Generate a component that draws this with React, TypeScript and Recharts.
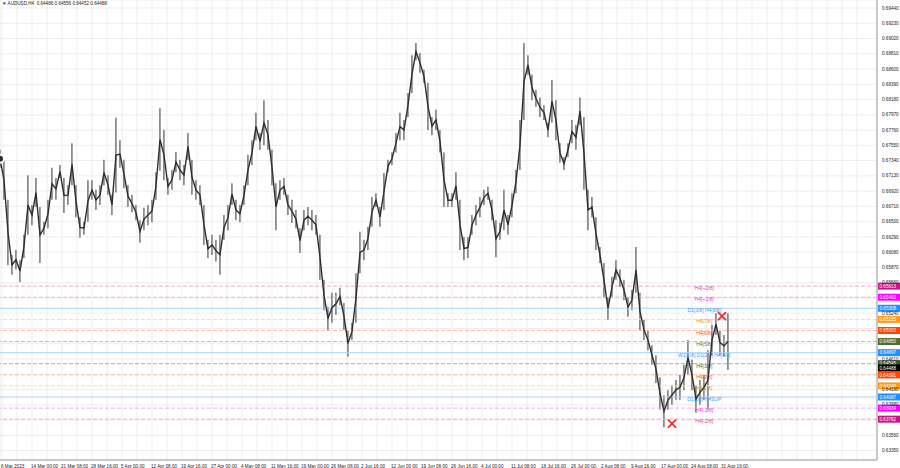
import React from 'react';
import { ComposedChart, Bar, Line, XAxis, YAxis, CartesianGrid, ReferenceLine, Scatter } from 'recharts';

const highs = [
  0.6749, 0.6735, 0.6680, 0.6604, 0.6611, 0.6597, 0.6632, 0.6714, 0.6673, 0.6710,
  0.6670, 0.6650, 0.6680, 0.6724, 0.6710, 0.6728, 0.6710, 0.6700, 0.6758, 0.6700,
  0.6656, 0.6650, 0.6707, 0.6707, 0.6694, 0.6700, 0.6735, 0.6714, 0.6687, 0.6793,
  0.6762, 0.6735, 0.6700, 0.6687, 0.6673, 0.6652, 0.6669, 0.6673, 0.6680, 0.6718,
  0.6806, 0.6776, 0.6710, 0.6721, 0.6746, 0.6735, 0.6728, 0.6772, 0.6735, 0.6707,
  0.6700, 0.6673, 0.6625, 0.6632, 0.6625, 0.6632, 0.6659, 0.6673, 0.6703, 0.6680,
  0.6673, 0.6700, 0.6742, 0.6762, 0.6800, 0.6772, 0.6817, 0.6790, 0.6749, 0.6703,
  0.6707, 0.6710, 0.6687, 0.6680, 0.6666, 0.6641, 0.6666, 0.6670, 0.6666, 0.6659,
  0.6632, 0.6570, 0.6533, 0.6552, 0.6552, 0.6559, 0.6538, 0.6501, 0.6511, 0.6579,
  0.6636, 0.6625, 0.6643, 0.6684, 0.6689, 0.6670, 0.6717, 0.6735, 0.6745, 0.6772,
  0.6800, 0.6790, 0.6827, 0.6879, 0.6896, 0.6882, 0.6859, 0.6841, 0.6794, 0.6804,
  0.6776, 0.6745, 0.6689, 0.6689, 0.6718, 0.6680, 0.6629, 0.6629, 0.6659, 0.6673,
  0.6684, 0.6694, 0.6698, 0.6680, 0.6652, 0.6648, 0.6694, 0.6659, 0.6689, 0.6721,
  0.6790, 0.6896, 0.6879, 0.6852, 0.6831, 0.6821, 0.6810, 0.6786, 0.6845, 0.6817,
  0.6758, 0.6739, 0.6758, 0.6790, 0.6783, 0.6821, 0.6794, 0.6694, 0.6684, 0.6656,
  0.6615, 0.6593, 0.6546, 0.6574, 0.6597, 0.6584, 0.6570, 0.6546, 0.6556, 0.6615,
  0.6552, 0.6515, 0.6501, 0.6480, 0.6466, 0.6436, 0.6411, 0.6418, 0.6425, 0.6432,
  0.6439, 0.6453, 0.6487, 0.6460, 0.6425, 0.6432, 0.6439, 0.6473, 0.6508, 0.6524,
  0.6501, 0.6494, 0.6524,
];

const lows = [
  0.6724, 0.6680, 0.6590, 0.6577, 0.6584, 0.6567, 0.6600, 0.6632, 0.6645, 0.6670,
  0.6593, 0.6632, 0.6641, 0.6680, 0.6680, 0.6710, 0.6662, 0.6673, 0.6700, 0.6656,
  0.6628, 0.6632, 0.6650, 0.6680, 0.6666, 0.6673, 0.6700, 0.6687, 0.6659, 0.6690,
  0.6724, 0.6696, 0.6670, 0.6663, 0.6652, 0.6621, 0.6638, 0.6645, 0.6649, 0.6680,
  0.6720, 0.6707, 0.6687, 0.6694, 0.6718, 0.6707, 0.6700, 0.6735, 0.6687, 0.6680,
  0.6673, 0.6618, 0.6600, 0.6604, 0.6595, 0.6577, 0.6625, 0.6638, 0.6673, 0.6652,
  0.6649, 0.6673, 0.6700, 0.6728, 0.6762, 0.6749, 0.6755, 0.6749, 0.6700, 0.6638,
  0.6680, 0.6687, 0.6659, 0.6648, 0.6641, 0.6607, 0.6638, 0.6645, 0.6638, 0.6632,
  0.6570, 0.6528, 0.6501, 0.6511, 0.6522, 0.6535, 0.6501, 0.6464, 0.6487, 0.6511,
  0.6579, 0.6597, 0.6611, 0.6643, 0.6670, 0.6643, 0.6666, 0.6718, 0.6728, 0.6745,
  0.6762, 0.6762, 0.6794, 0.6827, 0.6872, 0.6855, 0.6841, 0.6776, 0.6769, 0.6776,
  0.6745, 0.6670, 0.6670, 0.6670, 0.6680, 0.6611, 0.6597, 0.6600, 0.6632, 0.6645,
  0.6656, 0.6673, 0.6680, 0.6652, 0.6601, 0.6625, 0.6638, 0.6632, 0.6656, 0.6689,
  0.6721, 0.6790, 0.6852, 0.6817, 0.6808, 0.6794, 0.6790, 0.6766, 0.6786, 0.6762,
  0.6731, 0.6721, 0.6739, 0.6758, 0.6749, 0.6783, 0.6694, 0.6638, 0.6656, 0.6611,
  0.6593, 0.6546, 0.6515, 0.6546, 0.6570, 0.6560, 0.6542, 0.6519, 0.6528, 0.6552,
  0.6501, 0.6487, 0.6473, 0.6453, 0.6428, 0.6391, 0.6367, 0.6391, 0.6398, 0.6405,
  0.6405, 0.6418, 0.6439, 0.6418, 0.6387, 0.6398, 0.6405, 0.6391, 0.6466, 0.6494,
  0.6466, 0.6464, 0.6446,
];

const dateLabels = [
  '6 Mar 2023', '14 Mar 00:00', '21 Mar 08:00', '28 Mar 16:00', '5 Apr 00:00', '12 Apr 08:00',
  '19 Apr 16:00', '27 Apr 00:00', '4 May 08:00', '11 May 16:00', '19 May 00:00', '26 May 08:00',
  '2 Jun 16:00', '12 Jun 00:00', '19 Jun 08:00', '26 Jun 16:00', '4 Jul 00:00', '11 Jul 08:00',
  '18 Jul 16:00', '26 Jul 00:00', '2 Aug 08:00', '9 Aug 16:00', '17 Aug 00:00', '24 Aug 08:00',
  '31 Aug 16:00',
];

const priceTicks = [
  0.6335, 0.6356, 0.6377, 0.6398, 0.6419, 0.644, 0.6461, 0.6482, 0.6503, 0.6524,
  0.6545, 0.6566, 0.6587, 0.6608, 0.6629, 0.665, 0.6671, 0.6692, 0.6713, 0.6734,
  0.6755, 0.6776, 0.6797, 0.6818, 0.6839, 0.686, 0.6881, 0.6902, 0.6923, 0.6944,
];

const levelValues = [0.65613, 0.6546, 0.65308, 0.65155, 0.65002, 0.6485, 0.64697, 0.64545, 0.64391, 0.6424, 0.64087, 0.63934, 0.63782];
const levelNames = [
  'H4[+2/8]', 'H4[+1/8]', 'D1[3/8] H4[8/8]', 'H4[7/8]', 'H4[6/8]', 'H4[5/8]',
  'W1[1/8] D1[2/8] H4[4/8]', 'H4[3/8]', 'H4[2/8]', 'H4[1/8]', 'D1[1/8] H4SUP', 'H4[-1/8]', 'H4[-2/8]',
];

const currentPrice = 0.64488;
const titleText = '▼ AUDUSD,H4  0.64486 0.64556 0.64452 0.64488';

const markerIndex = [180.5, 168];
const markerPrice = [0.6520, 0.6372];

// styles
const boxColors = ['#c71585', '#ff00ff', '#1e90ff', '#ff9a1e', '#ff4500', '#556b2f', '#1e90ff', '#3b5428', '#ff4500', '#ff9a1e', '#1e90ff', '#ff00ff', '#c71585'];
const lineColors = ['#f2a6d8', '#f9a6f9', '#a9d3f7', '#fcd9ad', '#f7bca6', '#b9bfaa', '#a9d3f7', '#a9b0a0', '#f7bca6', '#fcd9ad', '#a9d3f7', '#f9a6f9', '#f2a6d8'];
const textColors = ['#d04aa0', '#e23ce2', '#3f9cf2', '#f5901a', '#f0562a', '#5f7a36', '#3f9cf2', '#4c6a34', '#f0562a', '#f5901a', '#3f9cf2', '#e23ce2', '#d04aa0'];
const solidLevel = [false, false, true, false, false, false, true, false, false, false, true, false, false];

const W = 900;
const H = 468;
const FONT = 'Liberation Sans, Arial, sans-serif';

const candleRows = highs.map((h, i) => ({ i, range: [lows[i], h], mid: (lows[i] + h) / 2 }));
const markerRows = markerIndex.map((m, k) => ({ i: m, p: markerPrice[k] }));

const xTickPos = Array.from({ length: 58 }, (_, k) => (2 + 15 * k) / 4);

const XTick = (props: any) => {
  const { x, y, index } = props;
  if (index % 2 !== 0) return null;
  const label = dateLabels[index / 2];
  if (!label) return null;
  return (
    <text x={x - 1} y={y + 5.5} fontSize={4.6} fontFamily={FONT} fill="#222" textAnchor="start">{label}</text>
  );
};

const YTick = (props: any) => {
  const { x, y, payload } = props;
  const covered = levelValues.some((v) => Math.abs(v - payload.value) < 0.00031);
  if (covered) return null;
  return (
    <text x={x + 3} y={y + 1.6} fontSize={4.6} fontFamily={FONT} fill="#222" textAnchor="start">{payload.value.toFixed(5)}</text>
  );
};

const LevelLabel = (props: any) => {
  const { viewBox, k } = props;
  if (!viewBox) return null;
  const { x, y, width } = viewBox;
  return (
    <g>
      <text x={x + width * 0.803} y={y + 4} fontSize={5} fontFamily={FONT} fill={textColors[k]} textAnchor="middle">{levelNames[k]}</text>
      <rect x={x + width + 1} y={y - 3.5} width={22} height={7} fill={boxColors[k]} />
      <text x={x + width + 2.5} y={y + 1.7} fontSize={4.6} fontFamily={FONT} fill="#fff" textAnchor="start">{levelValues[k].toFixed(5)}</text>
    </g>
  );
};

const PriceBox = (props: any) => {
  const { viewBox } = props;
  if (!viewBox) return null;
  const { x, y, width } = viewBox;
  return (
    <g>
      <rect x={x + width + 1} y={y - 3.5} width={22} height={7} fill="#000" />
      <text x={x + width + 2.5} y={y + 1.7} fontSize={4.6} fontFamily={FONT} fill="#fff" textAnchor="start">{currentPrice.toFixed(5)}</text>
    </g>
  );
};

const XMark = (props: any) => {
  const { cx, cy } = props;
  const s = 3.5;
  return (
    <g stroke="#f23030" strokeWidth={2} strokeLinecap="round">
      <line x1={cx - s} y1={cy - s} x2={cx + s} y2={cy + s} />
      <line x1={cx - s} y1={cy + s} x2={cx + s} y2={cy - s} />
    </g>
  );
};

export default function App() {
  return (
    <div style={{ position: 'absolute', left: 0, top: 0, width: W, height: H, background: '#fff' }}>
      <ComposedChart width={W} height={H} data={candleRows} margin={{ top: 0, right: 0, bottom: 0, left: 0 }}>
        <CartesianGrid stroke="#ededed" strokeWidth={1} />
        <XAxis
          dataKey="i"
          type="number"
          domain={[0, 219.25]}
          ticks={xTickPos}
          interval={0}
          height={8}
          tickLine={false}
          tickSize={0}
          axisLine={{ stroke: '#9a9a9a' }}
          tick={<XTick />}
          allowDataOverflow
        />
        <YAxis
          orientation="right"
          type="number"
          domain={[0.6322, 0.6955]}
          ticks={priceTicks}
          interval={0}
          width={23}
          tickLine={false}
          tickSize={0}
          axisLine={{ stroke: '#9a9a9a' }}
          tick={<YTick />}
          allowDataOverflow
        />
        {levelValues.map((v, k) => (
          <ReferenceLine
            key={k}
            y={v}
            stroke={lineColors[k]}
            strokeWidth={1}
            strokeDasharray={solidLevel[k] ? undefined : '4 2'}
            label={<LevelLabel k={k} />}
          />
        ))}
        <ReferenceLine y={currentPrice} stroke="#000" strokeOpacity={0} label={<PriceBox />} />
        <Bar dataKey="range" barSize={3} fill="#8c8c8c" isAnimationActive={false} />
        <Line dataKey="mid" type="linear" stroke="#2e2e2e" strokeWidth={1.4} dot={false} isAnimationActive={false} />
        <Scatter data={markerRows} dataKey="p" shape={<XMark />} isAnimationActive={false} />
      </ComposedChart>
      <div style={{ position: 'absolute', left: 2, top: 1, fontSize: 4.6, fontFamily: FONT, color: '#222', whiteSpace: 'pre', lineHeight: '6px' }}>{titleText}</div>
    </div>
  );
}
